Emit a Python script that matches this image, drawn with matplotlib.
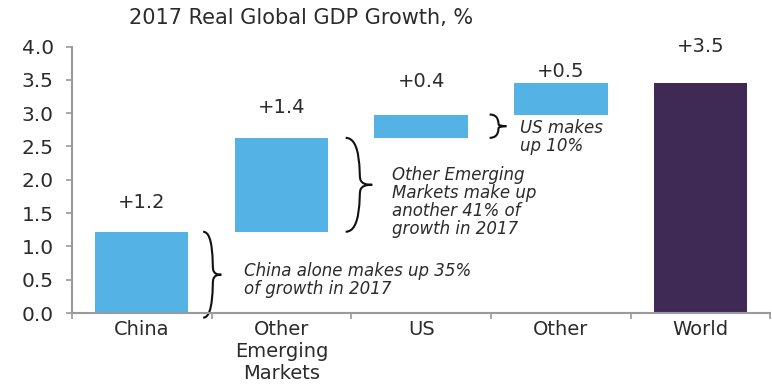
import numpy as np
import matplotlib.pyplot as plt
from matplotlib.path import Path
from matplotlib.patches import PathPatch

plt.rcParams['font.family'] = ['DejaVu Sans']

# data
categories = ["China", "Other\nEmerging\nMarkets", "US", "Other", "World"]
contrib = [1.22, 1.41, 0.35, 0.48]
world = 3.46
value_labels = ["+1.2", "+1.4", "+0.4", "+0.5", "+3.5"]
notes = ["China alone makes up 35%\nof growth in 2017",
         "Other Emerging\nMarkets make up\nanother 41% of\ngrowth in 2017",
         "US makes\nup 10%"]

blue = '#55b2e4'
purple = '#3e2a55'
gray = '#9a9a9a'
txt = '#2b2b2b'

bottoms = np.concatenate([[0], np.cumsum(contrib)[:-1]])
heights = list(contrib) + [world]
bottoms = list(bottoms) + [0]
colors = [blue] * len(contrib) + [purple]

fig = plt.figure(figsize=(7.72, 3.85), dpi=100)
ax = fig.add_axes([0.093, 0.187, 0.905, 0.692])

x = np.arange(len(categories))
bars = ax.bar(x, heights, bottom=bottoms, width=0.67, color=colors)

# value labels above each bar
label_pad = [21, 22, 24, 8, 26]
for i, b in enumerate(bars):
    top = b.get_y() + b.get_height()
    ax.annotate(value_labels[i], (b.get_x() + b.get_width() / 2, top),
                xytext=(0, label_pad[i]), textcoords='offset points',
                ha='center', va='center', fontsize=14, color=txt,
                annotation_clip=False)


def brace(ax, x0, y0, y1, w):
    # curly brace opening to the left, tip pointing right
    ym = (y0 + y1) / 2
    h = y1 - y0
    verts = [(x0, y1),
             (x0 + w * 0.6, y1), (x0 + w * 0.5, ym + h * 0.1), (x0 + w * 0.55, ym + h * 0.06),
             (x0 + w * 0.6, ym + 0.01), (x0 + w * 0.8, ym), (x0 + w, ym),
             (x0 + w * 0.8, ym), (x0 + w * 0.6, ym - 0.01), (x0 + w * 0.55, ym - h * 0.06),
             (x0 + w * 0.5, ym - h * 0.1), (x0 + w * 0.6, y0), (x0, y0)]
    codes = [Path.MOVETO] + [Path.CURVE4] * 12
    ax.add_patch(PathPatch(Path(verts, codes), fill=False, lw=1.5,
                           color='#111111', clip_on=False))


# brackets and notes (China, Other EM, US)
span_lo = [0 - 0.07, bottoms[1], bottoms[2]]
span_hi = [heights[0], bottoms[1] + heights[1], bottoms[2] + heights[2]]
brace_x = [0.44, 1.46, 2.49]
brace_w = [0.13, 0.19, 0.12]
note_x = [0.73, 1.79, 2.71]
note_y = [0.5, 1.66, 2.65]
for i in range(3):
    brace(ax, brace_x[i], span_lo[i], span_hi[i], brace_w[i])
    ax.text(note_x[i], note_y[i], notes[i], ha='left', va='center',
            fontsize=12, style='italic', color=txt, linespacing=1.0)

ax.set_xlim(-0.5, 4.5)
ax.set_ylim(0, 4.0)
ax.set_yticks(np.arange(0, 4.01, 0.5))
ax.set_yticklabels([f"{v:.1f}" for v in np.arange(0, 4.01, 0.5)])
ax.set_xticks(x)
ax.set_xticklabels(categories)
ax.set_xticks(np.arange(-0.5, 4.6, 1.0), minor=True)
ax.tick_params(axis='x', which='major', length=0, pad=5, labelsize=14, colors=txt)
ax.tick_params(axis='x', which='minor', length=4, color=gray, width=1.2)
ax.tick_params(axis='y', length=4, color=gray, width=1.2, labelsize=14.5, labelcolor=txt, pad=9)

for s in ['top', 'right']:
    ax.spines[s].set_visible(False)
for s in ['left', 'bottom']:
    ax.spines[s].set_color(gray)
    ax.spines[s].set_linewidth(1.5)

fig.text(0.39, 0.953, "2017 Real Global GDP Growth, %", ha='center', va='center',
         fontsize=15, color=txt)

fig.savefig('out.png', dpi=100)
